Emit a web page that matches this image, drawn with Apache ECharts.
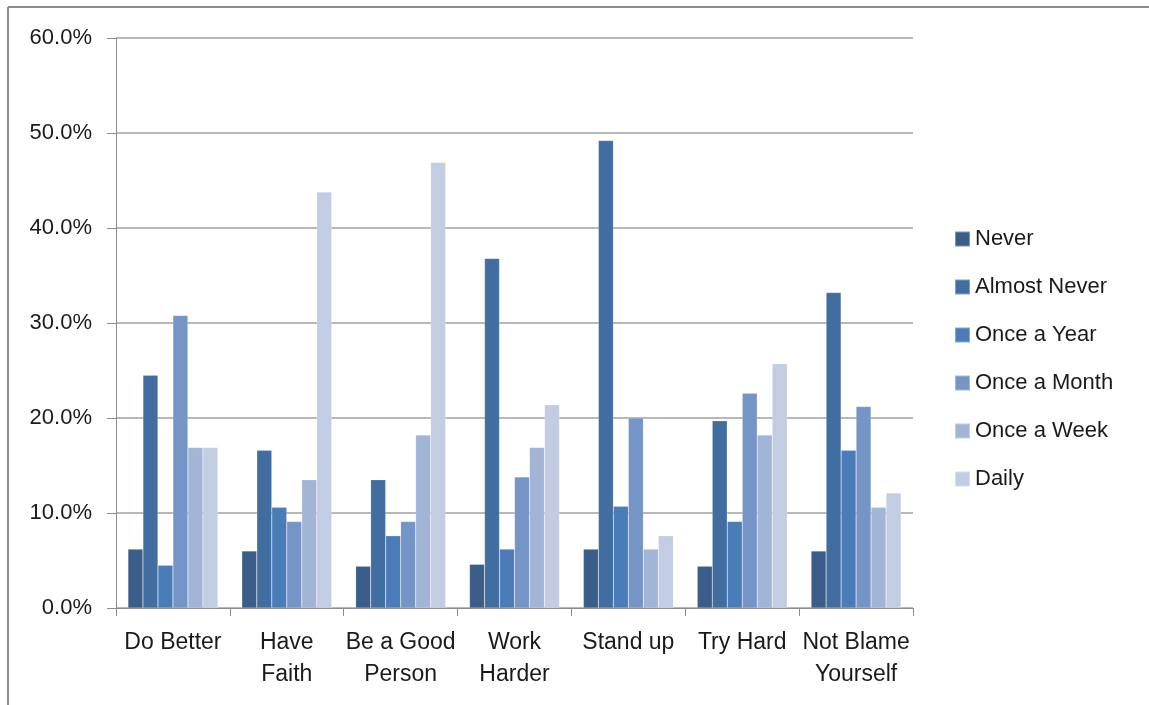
<!DOCTYPE html>
<html>
<head>
<meta charset="utf-8">
<script src="https://cdn.jsdelivr.net/npm/echarts@6/dist/echarts.min.js"></script>
<style>
html,body{margin:0;padding:0;background:#fff;}
#chart{width:1149px;height:705px;}
</style>
</head>
<body>
<div id="chart"></div>
<script>
var categories = ['Do Better', 'Have\nFaith', 'Be a Good\nPerson', 'Work\nHarder', 'Stand up', 'Try Hard', 'Not Blame\nYourself'];
var seriesNames = ['Never', 'Almost Never', 'Once a Year', 'Once a Month', 'Once a Week', 'Daily'];
var never       = [6.2, 6.0, 4.4, 4.6, 6.2, 4.4, 6.0];
var almostNever = [24.5, 16.6, 13.5, 36.8, 49.2, 19.7, 33.2];
var onceAYear   = [4.5, 10.6, 7.6, 6.2, 10.7, 9.1, 16.6];
var onceAMonth  = [30.8, 9.1, 9.1, 13.8, 20.0, 22.6, 21.2];
var onceAWeek   = [16.9, 13.5, 18.2, 16.9, 6.2, 18.2, 10.6];
var daily       = [16.9, 43.8, 46.9, 21.4, 7.6, 25.7, 12.1];
var yTicks = [0, 10, 20, 30, 40, 50, 60];

var colors = ['#3A5D8A', '#416DA0', '#4A7CB8', '#7595C6', '#A2B5D6', '#C2CDE3'];
var allData = [never, almostNever, onceAYear, onceAMonth, onceAWeek, daily];
var font = 'Liberation Sans, Arial, sans-serif';

var chart = echarts.init(document.getElementById('chart'), null, {renderer: 'canvas'});
var series = seriesNames.map(function (n, i) {
  return {
    name: n,
    type: 'bar',
    data: allData[i],
    barGap: '0%',
    barCategoryGap: '21%',
    itemStyle: {color: colors[i], borderColor: 'rgba(255,255,255,0.35)', borderWidth: 0.5},
    emphasis: {disabled: true}
  };
});

chart.setOption({
  animation: false,
  backgroundColor: '#fff',
  graphic: [
    {type: 'line', shape: {x1: 8, y1: 7, x2: 1149, y2: 7}, style: {stroke: '#8c8c8c', lineWidth: 2}},
    {type: 'line', shape: {x1: 8, y1: 7, x2: 8, y2: 705}, style: {stroke: '#8c8c8c', lineWidth: 2}}
  ],
  grid: {left: 116, top: 38, right: 236, bottom: 97, containLabel: false},
  legend: {
    orient: 'vertical',
    left: 949,
    top: 223,
    itemWidth: 15,
    itemHeight: 15,
    itemGap: 26,
    icon: 'rect',
    textStyle: {fontFamily: font, fontSize: 22, color: '#1a1a1a'},
    data: seriesNames
  },
  xAxis: {
    type: 'category',
    data: categories,
    axisLine: {lineStyle: {color: '#8c8c8c', width: 1}},
    axisTick: {show: true, length: 8, lineStyle: {color: '#8c8c8c'}},
    axisLabel: {fontFamily: font, fontSize: 23, color: '#1a1a1a', margin: 19, lineHeight: 32, interval: 0}
  },
  yAxis: {
    type: 'value',
    min: 0,
    max: 60,
    interval: 10,
    axisLine: {show: true, lineStyle: {color: '#8c8c8c', width: 1}},
    axisTick: {show: true, length: 9, lineStyle: {color: '#8c8c8c'}},
    splitLine: {lineStyle: {color: '#a0a0a0', width: 1.5}},
    axisLabel: {
      fontFamily: font, fontSize: 22, color: '#1a1a1a', margin: 24,
      formatter: function (v) { return yTicks.indexOf(v) >= 0 ? v.toFixed(1) + '%' : ''; }
    }
  },
  series: series
});
</script>
</body>
</html>
